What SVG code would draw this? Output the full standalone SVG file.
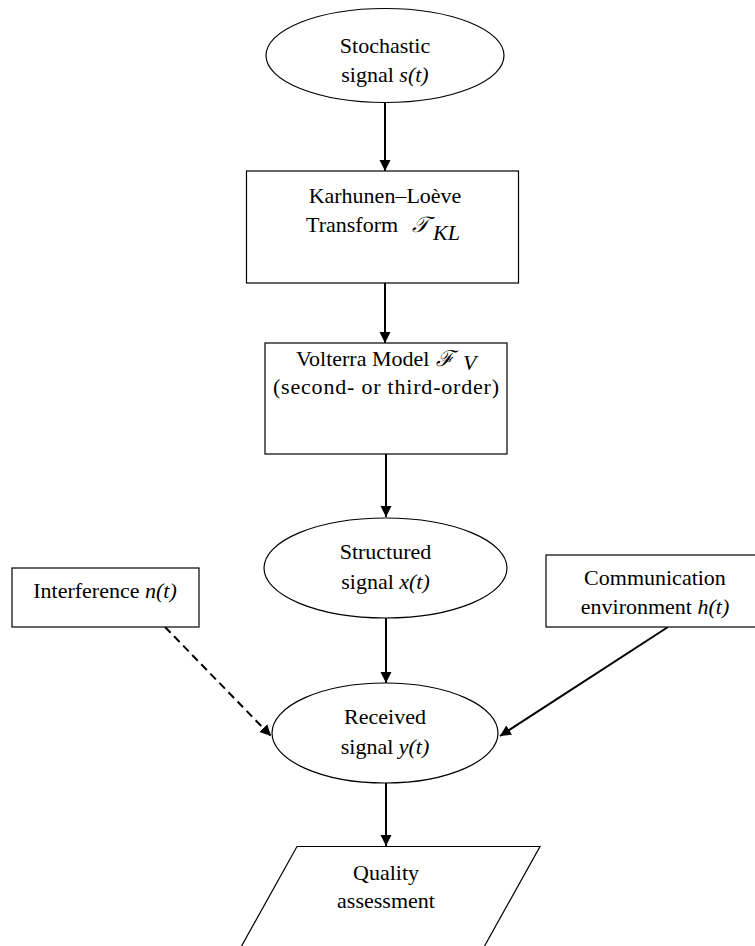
<svg xmlns="http://www.w3.org/2000/svg" width="755" height="946" viewBox="0 0 755 946">
<style>
.shape{fill:#fff;stroke:#000;stroke-width:1.2}
.t{font-family:"Liberation Serif","Times New Roman",serif;font-size:22px;fill:#000;text-anchor:middle}
.s{text-anchor:start}
.i{font-style:italic}
.m{font-family:"DejaVu Serif","Liberation Serif",serif;font-style:italic}
.conn{stroke:#000;stroke-width:2;fill:none}
.dash{stroke-dasharray:8 5}
</style>
<defs>
<marker id="ah" markerUnits="userSpaceOnUse" markerWidth="12" markerHeight="12" refX="11" refY="6" orient="auto">
<path d="M0,0.5 L11,6 L0,11.5 z" fill="#000"/>
</marker>
</defs>
<rect width="755" height="946" fill="#fff"/>
<g id="connectors">
<line class="conn" x1="385" y1="103" x2="385" y2="171" marker-end="url(#ah)"/>
<line class="conn" x1="385" y1="283" x2="385" y2="343" marker-end="url(#ah)"/>
<line class="conn" x1="386" y1="454" x2="386" y2="517" marker-end="url(#ah)"/>
<line class="conn" x1="386" y1="618" x2="386" y2="683" marker-end="url(#ah)"/>
<line class="conn" x1="386" y1="783" x2="386" y2="846" marker-end="url(#ah)"/>
<line class="conn dash" x1="165" y1="627" x2="271" y2="736" marker-end="url(#ah)"/>
<line class="conn" x1="668" y1="627" x2="500" y2="736" marker-end="url(#ah)"/>
</g>
<g id="stochastic">
<ellipse class="shape" cx="385" cy="55.5" rx="119" ry="47"/>
<text class="t" x="385" y="53">Stochastic</text>
<text class="t" x="385" y="82">signal <tspan class="i">s(t)</tspan></text>
</g>
<g id="klt">
<rect class="shape" x="246.5" y="171" width="272" height="112"/>
<text class="t" x="385" y="203">Karhunen–Loève</text>
<text class="t s" x="306" y="232">Transform</text>
<text class="t s m" x="412" y="232" font-size="24">𝒯</text>
<text class="t s i" x="433" y="240" font-size="12">KL</text>
</g>
<g id="volterra">
<rect class="shape" x="265" y="343" width="242" height="111"/>
<text class="t s" x="296" y="366">Volterra Model</text>
<text class="t s m" x="436" y="366" font-size="21">ℱ</text>
<text class="t s i" x="463" y="370" font-size="11">V</text>
<text class="t" x="386" y="394" textLength="226" lengthAdjust="spacing">(second- or third-order)</text>
</g>
<g id="structured">
<ellipse class="shape" cx="385.5" cy="568" rx="121.5" ry="50"/>
<text class="t" x="385.5" y="559">Structured</text>
<text class="t" x="385.5" y="589">signal <tspan class="i">x(t)</tspan></text>
</g>
<g id="interference">
<rect class="shape" x="12" y="568" width="187" height="59"/>
<text class="t" x="105" y="598">Interference <tspan class="i">n(t)</tspan></text>
</g>
<g id="environment">
<rect class="shape" x="546" y="555" width="218" height="72"/>
<text class="t" x="655" y="585">Communication</text>
<text class="t" x="655" y="614">environment <tspan class="i">h(t)</tspan></text>
</g>
<g id="received">
<ellipse class="shape" cx="385" cy="733" rx="113" ry="50"/>
<text class="t" x="385" y="724">Received</text>
<text class="t" x="385" y="754">signal <tspan class="i">y(t)</tspan></text>
</g>
<g id="quality">
<polygon class="shape" points="297,846.5 540,846.5 479,956 236,956"/>
<text class="t" x="386" y="880">Quality</text>
<text class="t" x="386" y="908">assessment</text>
</g>
</svg>
